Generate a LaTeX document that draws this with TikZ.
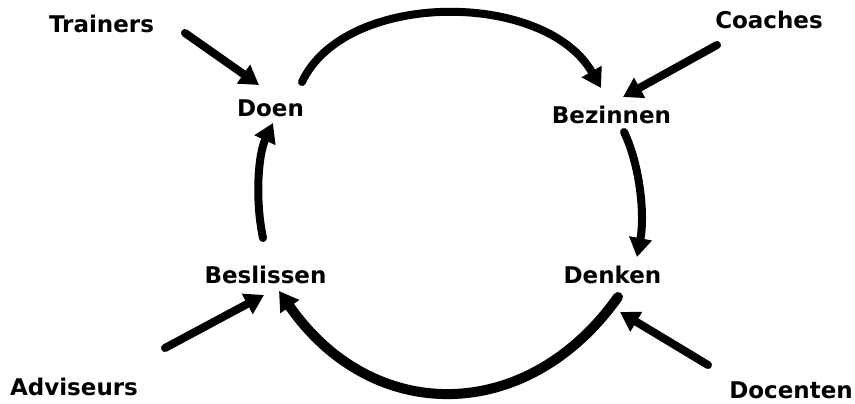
\documentclass[tikz,border=0pt]{standalone}
\usepackage{fontspec}
\setmainfont{DejaVu Sans}
\usetikzlibrary{arrows.meta}
\begin{document}
\begin{tikzpicture}[x=1pt,y=-1pt,
  lbl/.style={anchor=base,inner sep=0pt,font=\fontsize{23}{26}\selectfont\bfseries},
  flow/.style={line width=8pt,line cap=round,-{Triangle[length=19pt,width=22pt]}},
  bigflow/.style={flow,line width=10pt}]
\useasboundingbox[fill=white] (0,0) rectangle (855,404);
% labels
\node[lbl] (trainers) at (101.5,33) {Trainers};
\node[lbl] (doen) at (270.5,117) {Doen};
\node[lbl] (coaches) at (769,29) {Coaches};
\node[lbl] (bezinnen) at (611.5,124) {Bezinnen};
\node[lbl] (beslissen) at (265.5,283) {Beslissen};
\node[lbl] (denken) at (612.5,283) {Denken};
\node[lbl] (adviseurs) at (74,395) {Adviseurs};
\node[lbl] (docenten) at (791,398) {Docenten};
% connector end points
\coordinate (tr0) at (185,33);   \coordinate (tr1) at (259,85);
\coordinate (co0) at (717,45);   \coordinate (co1) at (623,97);
\coordinate (ad0) at (165,348);  \coordinate (ad1) at (264,295);
\coordinate (dc0) at (708,365);  \coordinate (dc1) at (620,312);
\coordinate (d0) at (302,82);    \coordinate (bz1) at (601,88);
\coordinate (bz0) at (624,132);  \coordinate (dk1) at (637,257);
\coordinate (dk0) at (618,297);  \coordinate (bs1) at (279,291);
\coordinate (bs0) at (263,238);  \coordinate (d1) at (273,123);
% cycle
\draw[flow] (d0) .. controls (345,-10) and (545,-10) .. (bz1);
\draw[flow] (bz0) .. controls (640,165) and (645,215) .. (dk1);
\draw[bigflow] (dk0) .. controls (527,425) and (372,425) .. (bs1);
\draw[flow] (bs0) .. controls (255,200) and (258,155) .. (d1);
% external influences
\draw[flow] (tr0) -- (tr1);
\draw[flow] (co0) -- (co1);
\draw[flow] (ad0) -- (ad1);
\draw[flow] (dc0) -- (dc1);
\end{tikzpicture}
\end{document}
